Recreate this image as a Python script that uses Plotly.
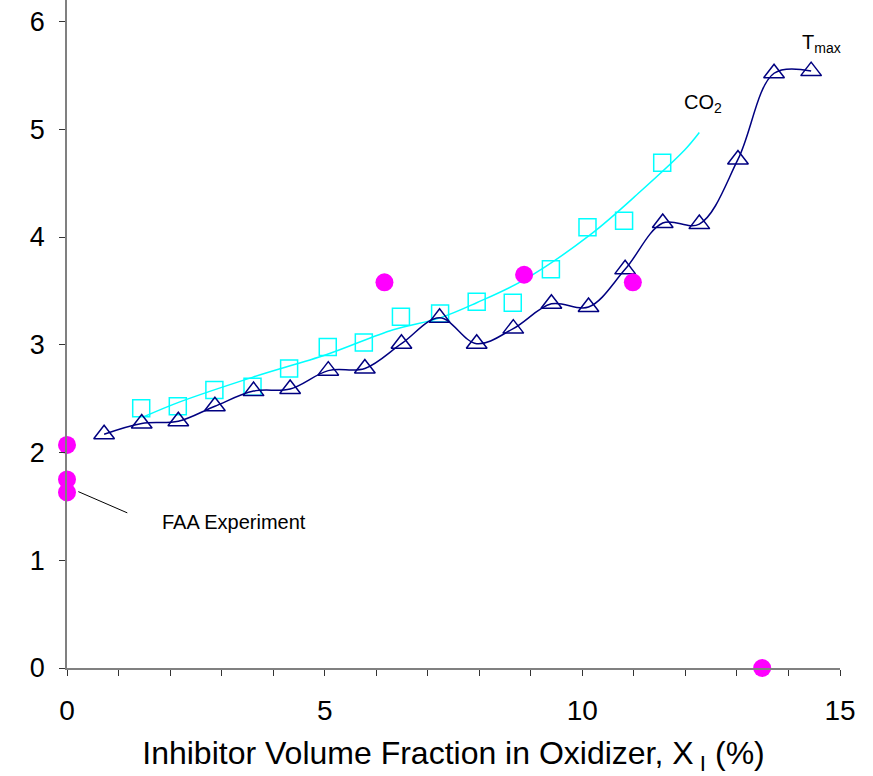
import plotly.graph_objects as go

# Tmax series (triangles)
tmax_x = [0.72, 1.45, 2.16, 2.87, 3.62, 4.33, 5.07, 5.78, 6.49, 7.23, 7.95, 8.66, 9.40, 10.12, 10.83, 11.56, 12.27, 13.02, 13.72, 14.44]
tmax_y = [2.17, 2.27, 2.29, 2.43, 2.57, 2.59, 2.76, 2.78, 3.01, 3.25, 3.01, 3.15, 3.38, 3.35, 3.70, 4.13, 4.12, 4.72, 5.52, 5.54]

# CO2 series (squares)
co2_x = [1.44, 2.15, 2.86, 3.60, 4.31, 5.06, 5.76, 6.48, 7.24, 7.95, 8.65, 9.39, 10.10, 10.81, 11.55]
co2_y = [2.41, 2.43, 2.58, 2.61, 2.78, 2.98, 3.02, 3.26, 3.29, 3.40, 3.39, 3.70, 4.09, 4.15, 4.69]

# CO2 trend line
co2_fit_x = [1.48, 2.19, 3.61, 5.04, 6.33, 7.24, 7.95, 8.86, 10.15, 11.12, 11.99, 12.27]
co2_fit_y = [2.33, 2.47, 2.70, 2.91, 3.14, 3.25, 3.39, 3.60, 4.02, 4.42, 4.81, 4.97]

# FAA experiment points
faa_x = [0.0, 0.0, 0.0, 6.16, 8.87, 10.98, 13.49]
faa_y = [2.07, 1.75, 1.63, 3.58, 3.65, 3.58, 0.0]

x_ticks = [0, 5, 10, 15]
y_ticks = [0, 1, 2, 3, 4, 5, 6]

FONT = "Arial, Liberation Sans, sans-serif"
NAVY = "#000080"
CYAN = "#00FFFF"
MAGENTA = "#FF00FF"

fig = go.Figure()

fig.add_trace(go.Scatter(x=co2_fit_x, y=co2_fit_y, mode="lines",
                         line=dict(color=CYAN, width=1.5, shape="spline", smoothing=1.0),
                         showlegend=False, hoverinfo="skip"))
fig.add_trace(go.Scatter(x=co2_x, y=co2_y, mode="markers",
                         marker=dict(symbol="square-open", size=17, color=CYAN, line=dict(width=1.5, color=CYAN)),
                         showlegend=False, name="CO2"))
fig.add_trace(go.Scatter(x=tmax_x, y=tmax_y, mode="lines+markers",
                         line=dict(color=NAVY, width=1.5, shape="spline", smoothing=1.0),
                         marker=dict(symbol="triangle-up-open", size=18, color=NAVY, line=dict(width=1.5, color=NAVY)),
                         showlegend=False, name="Tmax"))
fig.add_trace(go.Scatter(x=faa_x, y=faa_y, mode="markers",
                         marker=dict(symbol="circle", size=18, color=MAGENTA),
                         cliponaxis=False, showlegend=False, name="FAA Experiment"))

fig.add_shape(type="line", xref="x", yref="y", x0=0.22, y0=1.637, x1=1.17, y1=1.44,
              line=dict(color="black", width=1))

fig.add_annotation(x=1.8, y=1.356, xref="x", yref="y", text="FAA Experiment", showarrow=False,
                   xanchor="left", yanchor="middle", font=dict(family=FONT, size=20, color="black"))
fig.add_annotation(x=12.34, y=5.24, xref="x", yref="y", text="CO<sub>2</sub>", showarrow=False,
                   xanchor="center", yanchor="middle", font=dict(family=FONT, size=20, color="black"))
fig.add_annotation(x=14.65, y=5.80, xref="x", yref="y", text="T<sub>max</sub>", showarrow=False,
                   xanchor="center", yanchor="middle", font=dict(family=FONT, size=20, color="black"))

fig.update_layout(
    width=873, height=776,
    margin=dict(l=67, r=33, t=0, b=108),
    paper_bgcolor="white", plot_bgcolor="white",
    font=dict(family=FONT, color="black"),
    xaxis=dict(range=[0, 15], tickvals=x_ticks, ticks="outside", ticklen=6, tickcolor="#333",
               showline=True, linecolor="#808080", linewidth=1.5, showgrid=False, zeroline=False,
               minor=dict(dtick=1, ticks="outside", ticklen=6, tickcolor="#333"),
               tickfont=dict(size=28, family=FONT), ticklabelstandoff=11,
               title=dict(text="Inhibitor Volume Fraction in Oxidizer, X<sub> I</sub> (%)",
                          font=dict(size=32, family=FONT), standoff=28)),
    yaxis=dict(range=[0, 6.2], tickvals=y_ticks, ticks="outside", ticklen=6, tickcolor="#333",
               showline=True, linecolor="#808080", linewidth=1.5, showgrid=False, zeroline=False,
               tickfont=dict(size=27, family=FONT), ticklabelstandoff=9),
)

fig.write_html("out.html")
